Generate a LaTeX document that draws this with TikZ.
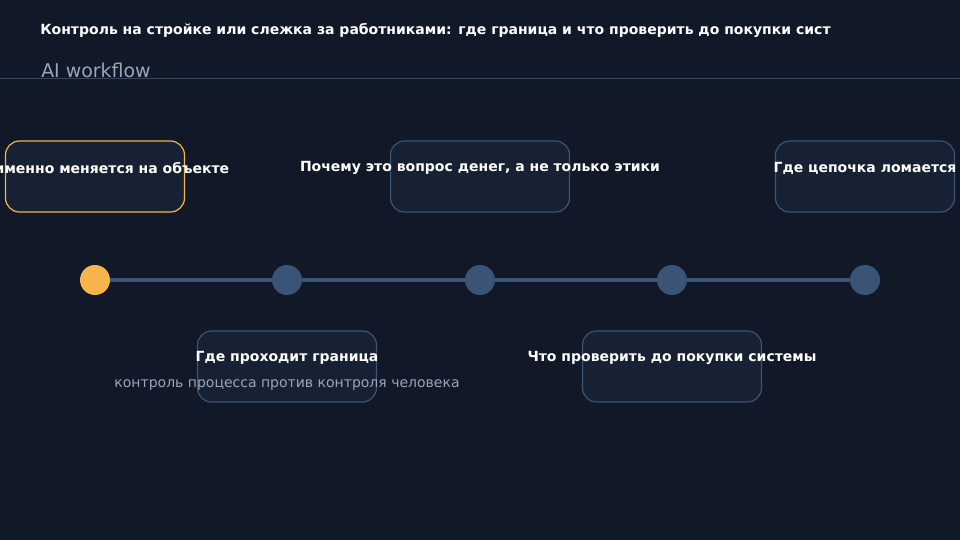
\documentclass[tikz,border=0pt]{standalone}
\usepackage{fontspec}
\setmainfont{DejaVu Sans}
\usetikzlibrary{positioning}
\definecolor{pagebg}{HTML}{111827}
\definecolor{cardbg}{HTML}{172134}
\definecolor{cardline}{HTML}{3A5475}
\definecolor{accent}{HTML}{F5B54A}
\definecolor{muted}{HTML}{9AA6B8}
\definecolor{rulecol}{HTML}{2C4A6B}
\tikzset{card/.style={
    % The shape:
    rectangle, rounded corners=10.5pt,
    % The size:
    minimum width=134.25pt, minimum height=53.25pt,
    % The border:
    line width=0.9pt, draw=cardline, fill=cardbg,
    inner sep=0pt
    },
    activecard/.style={card, draw=accent},
    cardtitle/.style={
    font=\bfseries\fontsize{10.5}{12}\selectfont,
    text=white, inner sep=0pt,
    },
    cardnote/.style={
    font=\fontsize{10.5}{12}\selectfont,
    text=muted, inner sep=0pt,
    },
    stepdot/.style={circle, minimum size=22.5pt, inner sep=0pt, fill=cardline},
    activedot/.style={stepdot, fill=accent},
}

\begin{document}
\begin{tikzpicture}[x=0.75pt, y=-0.75pt]
    \clip (0,0) rectangle (960,540);
    \fill[pagebg] (0,0) rectangle (960,540);

    % header
    \node (title) [anchor=west, text=white, inner sep=0pt,
        font=\bfseries\fontsize{10.5}{12}\selectfont] at (40,30)
        {Контроль на стройке или слежка за работниками: где граница и что проверить до покупки сист};
    \node (sub) [anchor=west, text=muted, inner sep=0pt,
        font=\fontsize{14.2}{16}\selectfont] at (41,70) {AI workflow};
    \draw[rulecol, line width=0.75pt] (0,78) -- (960,78);

    % timeline
    \foreach \i/\x in {1/95, 2/287, 3/480, 4/672, 5/865}
        \coordinate (p\i) at (\x,280);
    \draw[cardline, line width=3pt] (p1) -- (p5);
    \node (dot1) [activedot] at (p1) {};
    \foreach \i in {2,...,5}
        \node (dot\i) [stepdot] at (p\i) {};

    % cards above
    \node (what)   [activecard] at (95,176.5)  {};
    \node (money)  [card]       at (480,176.5) {};
    \node (breaks) [card]       at (865,176.5) {};
    % cards below
    \node (border) [card]       at (287,366.5) {};
    \node (check)  [card]       at (672,366.5) {};

    \node (whatT)   [cardtitle] at ([yshift=6.3pt]what.center)   {Что именно меняется на объекте};
    \node (moneyT)  [cardtitle] at ([yshift=6.3pt]money.center)  {Почему это вопрос денег, а не только этики};
    \node (breaksT) [cardtitle] at ([yshift=6.3pt]breaks.center) {Где цепочка ломается};
    \node (borderT) [cardtitle] at ([yshift=6.3pt]border.center) {Где проходит граница};
    \node (borderN) [cardnote]  at ([yshift=-14.2pt]border.center) {контроль процесса против контроля человека};
    \node (checkT)  [cardtitle] at ([yshift=6.3pt]check.center)  {Что проверить до покупки системы};
\end{tikzpicture}
\end{document}
